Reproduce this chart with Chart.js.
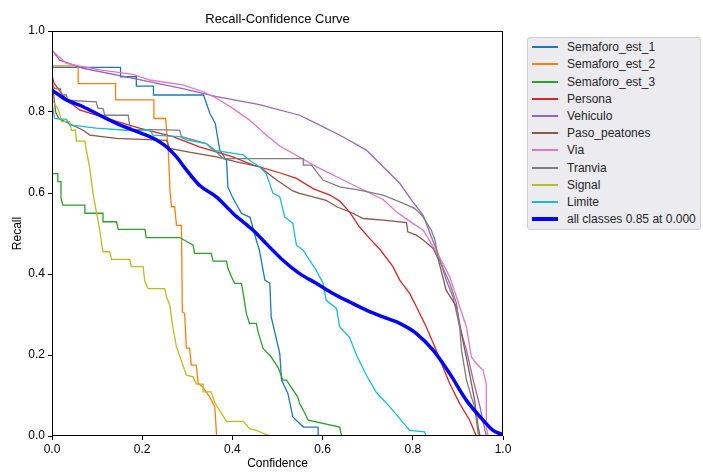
<!DOCTYPE html>
<html>
<head>
<meta charset="utf-8">
<script src="https://cdn.jsdelivr.net/npm/chart.js@4.4.0/dist/chart.umd.min.js"></script>
<style>
  body { margin: 0; background: #fff; font-family: "Liberation Sans", Arial, sans-serif; }
  #wrap { position: relative; width: 703px; height: 472px; }
  #legend { position: absolute; left: 527px; top: 37px; width: 174px; height: 193px; background: #ebebf0; border: 1px solid #d0d0d0; border-radius: 3px; box-sizing: border-box; }
  .row { position: absolute; left: 0; width: 170px; height: 17px; font-size: 12px; color: #262626; }
  .swatch { position: absolute; left: 4px; width: 26px; }
  .label { position: absolute; left: 39px; top: 1px; line-height: 14px; white-space: nowrap; }
</style>
</head>
<body>
<div id="wrap">
  <canvas id="plot" width="703" height="472"></canvas>
  <div id="legend"></div>
</div>
<script>
// recall vs confidence threshold, one curve per class: [confidence, recall]
const semaforo1 = [[0,0.91],[0.152,0.91],[0.152,0.887],[0.187,0.887],[0.187,0.864],[0.225,0.864],[0.225,0.842],[0.336,0.842],[0.35,0.797],[0.362,0.772],[0.372,0.706],[0.387,0.68],[0.39,0.615],[0.4,0.59],[0.42,0.55],[0.439,0.54],[0.453,0.484],[0.46,0.458],[0.472,0.385],[0.483,0.377],[0.486,0.294],[0.505,0.204],[0.509,0.138],[0.523,0.105],[0.534,0.047],[0.557,0.022],[0.59,0.022],[0.59,0],[1,0]];
const semaforo2 = [[0,0.914],[0.058,0.914],[0.058,0.87],[0.141,0.87],[0.141,0.83],[0.226,0.83],[0.226,0.784],[0.252,0.784],[0.258,0.7],[0.262,0.6],[0.265,0.566],[0.272,0.566],[0.276,0.52],[0.287,0.52],[0.289,0.306],[0.294,0.303],[0.298,0.217],[0.305,0.217],[0.309,0.175],[0.32,0.175],[0.324,0.13],[0.334,0.121],[0.35,0.096],[0.361,0.072],[0.365,0],[1,0]];
const semaforo3 = [[0,0.648],[0.013,0.648],[0.013,0.628],[0.02,0.628],[0.02,0.587],[0.024,0.57],[0.073,0.57],[0.073,0.55],[0.113,0.55],[0.113,0.529],[0.143,0.529],[0.147,0.51],[0.206,0.51],[0.209,0.49],[0.283,0.49],[0.313,0.471],[0.316,0.451],[0.353,0.451],[0.357,0.432],[0.387,0.432],[0.39,0.414],[0.398,0.393],[0.405,0.377],[0.42,0.377],[0.424,0.352],[0.431,0.302],[0.438,0.278],[0.453,0.278],[0.457,0.257],[0.468,0.216],[0.486,0.195],[0.501,0.17],[0.512,0.138],[0.52,0.138],[0.545,0.096],[0.549,0.08],[0.557,0.064],[0.568,0.039],[0.638,0.022],[0.642,0],[1,0]];
const persona = [[0,0.89],[0.005,0.87],[0.032,0.83],[0.061,0.805],[0.121,0.784],[0.194,0.76],[0.268,0.739],[0.327,0.714],[0.401,0.689],[0.446,0.669],[0.505,0.65],[0.542,0.636],[0.579,0.611],[0.616,0.595],[0.638,0.58],[0.66,0.553],[0.682,0.516],[0.704,0.488],[0.727,0.461],[0.756,0.418],[0.771,0.385],[0.793,0.352],[0.808,0.319],[0.83,0.269],[0.852,0.212],[0.867,0.17],[0.882,0.129],[0.904,0.08],[0.926,0.039],[0.941,0],[1,0]];
const vehiculo = [[0,0.953],[0.017,0.928],[0.069,0.908],[0.18,0.883],[0.29,0.858],[0.365,0.838],[0.46,0.818],[0.549,0.792],[0.586,0.772],[0.645,0.739],[0.697,0.706],[0.734,0.665],[0.771,0.624],[0.8,0.578],[0.823,0.545],[0.841,0.492],[0.856,0.45],[0.874,0.385],[0.889,0.344],[0.904,0.269],[0.919,0.212],[0.934,0.138],[0.949,0.072],[0.96,0.014],[0.963,0],[1,0]];
const pasoPeatones = [[0,0.88],[0.008,0.8],[0.015,0.784],[0.069,0.755],[0.084,0.743],[0.143,0.735],[0.254,0.73],[0.261,0.71],[0.298,0.702],[0.365,0.689],[0.409,0.677],[0.46,0.665],[0.498,0.632],[0.534,0.605],[0.549,0.599],[0.608,0.582],[0.631,0.566],[0.667,0.55],[0.69,0.537],[0.734,0.533],[0.786,0.527],[0.789,0.504],[0.808,0.496],[0.823,0.484],[0.845,0.463],[0.856,0.438],[0.874,0.36],[0.897,0.319],[0.911,0.236],[0.926,0.154],[0.937,0.088],[0.945,0.022],[0.949,0],[1,0]];
const via = [[0,0.952],[0.032,0.92],[0.106,0.904],[0.18,0.893],[0.217,0.879],[0.29,0.867],[0.335,0.85],[0.365,0.834],[0.401,0.809],[0.438,0.78],[0.475,0.743],[0.505,0.716],[0.586,0.665],[0.66,0.624],[0.734,0.584],[0.764,0.553],[0.8,0.525],[0.823,0.508],[0.841,0.475],[0.86,0.44],[0.882,0.393],[0.904,0.319],[0.919,0.269],[0.93,0.195],[0.941,0.179],[0.956,0.162],[0.963,0.129],[0.963,0.022],[0.967,0],[1,0]];
const tranvia = [[0,0.87],[0.006,0.858],[0.018,0.858],[0.021,0.842],[0.032,0.842],[0.035,0.829],[0.098,0.825],[0.102,0.809],[0.113,0.809],[0.117,0.792],[0.169,0.792],[0.172,0.768],[0.176,0.757],[0.283,0.755],[0.287,0.739],[0.342,0.722],[0.357,0.71],[0.379,0.685],[0.557,0.685],[0.557,0.669],[0.575,0.669],[0.601,0.632],[0.638,0.615],[0.682,0.607],[0.734,0.595],[0.771,0.578],[0.804,0.562],[0.823,0.541],[0.841,0.508],[0.849,0.484],[0.856,0.442],[0.882,0.377],[0.897,0.327],[0.904,0.269],[0.908,0.212],[0.919,0.138],[0.93,0.096],[0.937,0.072],[0.945,0.006],[0.949,0],[1,0]];
const signal = [[0,0.83],[0.012,0.81],[0.017,0.797],[0.021,0.776],[0.039,0.776],[0.043,0.755],[0.052,0.755],[0.054,0.728],[0.073,0.728],[0.076,0.706],[0.084,0.66],[0.087,0.632],[0.091,0.599],[0.098,0.555],[0.106,0.508],[0.11,0.475],[0.113,0.455],[0.128,0.455],[0.132,0.436],[0.172,0.436],[0.176,0.418],[0.202,0.418],[0.206,0.38],[0.213,0.364],[0.25,0.364],[0.254,0.343],[0.261,0.323],[0.268,0.269],[0.276,0.22],[0.287,0.185],[0.298,0.15],[0.313,0.146],[0.32,0.128],[0.335,0.128],[0.335,0.109],[0.353,0.109],[0.361,0.082],[0.387,0.036],[0.424,0.036],[0.438,0.018],[0.453,0.014],[0.483,0],[1,0]];
const limite = [[0,0.82],[0.006,0.784],[0.032,0.782],[0.039,0.768],[0.098,0.76],[0.165,0.755],[0.217,0.755],[0.224,0.743],[0.283,0.739],[0.298,0.731],[0.342,0.722],[0.357,0.706],[0.424,0.694],[0.438,0.681],[0.46,0.665],[0.475,0.648],[0.49,0.599],[0.505,0.591],[0.516,0.541],[0.534,0.525],[0.542,0.471],[0.557,0.459],[0.571,0.434],[0.586,0.409],[0.601,0.377],[0.608,0.335],[0.631,0.315],[0.638,0.269],[0.66,0.243],[0.675,0.2],[0.697,0.15],[0.719,0.108],[0.749,0.072],[0.771,0.043],[0.793,0.014],[0.826,0.01],[0.83,0],[1,0]];
const allClasses = [[0,0.854],[0.032,0.83],[0.069,0.813],[0.106,0.792],[0.143,0.772],[0.18,0.755],[0.217,0.739],[0.239,0.726],[0.254,0.714],[0.276,0.689],[0.298,0.657],[0.327,0.619],[0.365,0.59],[0.401,0.55],[0.446,0.508],[0.475,0.475],[0.512,0.434],[0.549,0.401],[0.586,0.377],[0.623,0.352],[0.66,0.331],[0.697,0.311],[0.734,0.294],[0.771,0.278],[0.808,0.253],[0.845,0.212],[0.882,0.154],[0.919,0.088],[0.956,0.039],[0.978,0.014],[1.0,0.003]];

const classNames = ['Semaforo_est_1','Semaforo_est_2','Semaforo_est_3','Persona','Vehiculo','Paso_peatones','Via','Tranvia','Signal','Limite'];
const classCurves = [semaforo1, semaforo2, semaforo3, persona, vehiculo, pasoPeatones, via, tranvia, signal, limite];
const colors = ['#1f77b4','#ff7f0e','#2ca02c','#d62728','#9467bd','#8c564b','#e377c2','#7f7f7f','#bcbd22','#17becf'];
const allLabel = 'all classes 0.85 at 0.000';
const tickValues = [0, 0.2, 0.4, 0.6, 0.8, 1.0];

const toXY = pts => pts.map(p => ({ x: p[0], y: p[1] }));

let datasets = classCurves.map((pts, i) => ({
    label: classNames[i],
    data: toXY(pts),
    borderColor: colors[i],
    borderWidth: 1.3,
    pointRadius: 0,
    tension: 0,
    order: classCurves.length - i
}));
datasets.push({
    label: allLabel,
    data: toXY(allClasses),
    borderColor: '#0000ff',
    borderWidth: 3.5,
    pointRadius: 0,
    cubicInterpolationMode: 'monotone',
    order: 0
});

// axes frame + title drawn by hand, matplotlib style
const frame = {
    id: 'frame',
    afterDraw(chart) {
        const { ctx, chartArea: a } = chart;
        ctx.save();
        ctx.strokeStyle = '#000';
        ctx.lineWidth = 1;
        ctx.strokeRect(Math.round(a.left) + 0.5, Math.round(a.top) + 0.5, Math.round(a.width) - 1, Math.round(a.height) - 1);
        ctx.fillStyle = '#000';
        ctx.font = '13px "Liberation Sans", Arial, sans-serif';
        ctx.textAlign = 'center';
        ctx.textBaseline = 'middle';
        ctx.fillText('Recall-Confidence Curve', (a.left + a.right) / 2, 19);
        ctx.restore();
    }
};

const tickFont = { family: '"Liberation Sans", Arial, sans-serif', size: 12 };

function axis(title, isX) {
    return {
        type: 'linear',
        min: 0,
        max: 1,
        afterBuildTicks: s => { s.ticks = tickValues.map(v => ({ value: v })); },
        ticks: {
            color: '#000',
            font: tickFont,
            padding: isX ? 2 : 3,
            callback: v => v.toFixed(1),
            maxRotation: 0
        },
        grid: { drawOnChartArea: false, drawTicks: true, tickLength: 4, color: '#000' },
        border: { display: false },
        title: {
            display: true,
            text: title,
            color: '#000',
            font: tickFont,
            padding: isX ? { top: 0, bottom: 1 } : { top: 10, bottom: 0 }
        },
        afterFit: s => {
            if (isX) s.height = 36; else s.width = 52;
        }
    };
}

let ctx = document.getElementById('plot').getContext('2d');
window.myChart = new Chart(ctx, {
    type: 'line',
    data: { datasets: datasets },
    options: {
        responsive: false,
        animation: false,
        layout: { padding: { left: 0, top: 31, right: 200, bottom: 0 } },
        scales: {
            x: axis('Confidence', true),
            y: axis('Recall', false)
        },
        plugins: {
            legend: { display: false },
            tooltip: { enabled: false }
        }
    },
    plugins: [frame]
});

// legend box on the right
const legend = document.getElementById('legend');
const rows = classNames.map((n, i) => ({ name: n, color: colors[i], width: 2 }));
rows.push({ name: allLabel, color: '#0000ff', width: 4 });
rows.forEach((r, i) => {
    const row = document.createElement('div');
    row.className = 'row';
    const cy = Math.round(9.2 + 17.2 * i);
    row.style.top = (cy - 8) + 'px';
    const sw = document.createElement('div');
    sw.className = 'swatch';
    sw.style.height = r.width + 'px';
    sw.style.top = (8 - r.width / 2) + 'px';
    sw.style.background = r.color;
    const lb = document.createElement('div');
    lb.className = 'label';
    lb.textContent = r.name;
    row.appendChild(sw);
    row.appendChild(lb);
    legend.appendChild(row);
});
</script>
</body>
</html>
